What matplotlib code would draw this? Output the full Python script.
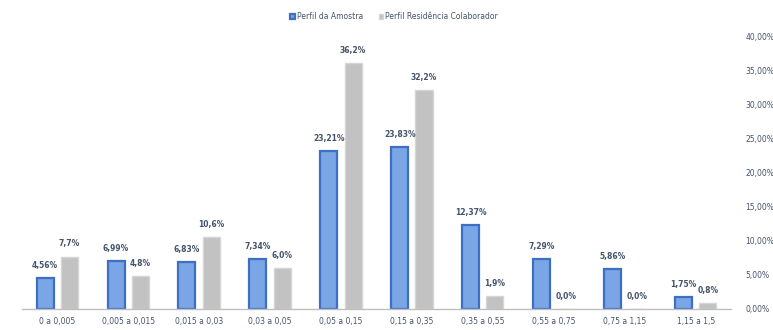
import matplotlib
matplotlib.use("Agg")
import matplotlib.pyplot as plt
import numpy as np
from matplotlib.ticker import FuncFormatter, MultipleLocator

categories = ["0 a 0,005", "0,005 a 0,015", "0,015 a 0,03", "0,03 a 0,05",
              "0,05 a 0,15", "0,15 a 0,35", "0,35 a 0,55", "0,55 a 0,75",
              "0,75 a 1,15", "1,15 a 1,5"]
amostra = [4.56, 6.99, 6.83, 7.34, 23.21, 23.83, 12.37, 7.29, 5.86, 1.75]
residencia = [7.7, 4.8, 10.6, 6.0, 36.2, 32.2, 1.9, 0.0, 0.0, 0.8]
series_names = ["Perfil da Amostra", "Perfil Residência Colaborador"]

fig = plt.figure(figsize=(7.73, 3.3), dpi=100)
ax = fig.add_axes([0.028, 0.064, 0.918, 0.824])

x = np.arange(len(categories))
w = 0.24
off = 0.17

b1 = ax.bar(x - off, amostra, w, color="#7aa6e6", edgecolor="#3f6fc4",
            linewidth=1.6, label=series_names[0])
b2 = ax.bar(x + off, residencia, w, color="#c2c2c2", edgecolor="#d6d6d6",
            linewidth=1.0, label=series_names[1])

def pct2(v):
    return f"{v:.2f}".replace(".", ",") + "%"

def pct1(v):
    return f"{v:.1f}".replace(".", ",") + "%"

for xi, v in zip(x, amostra):
    ax.text(xi - off, v + 1.2, pct2(v), ha="center", va="bottom",
            fontsize=5.5, color="#44546a", fontweight="bold")
for xi, v in zip(x, residencia):
    ax.text(xi + off, v + 1.2, pct1(v), ha="center", va="bottom",
            fontsize=5.5, color="#44546a", fontweight="bold")

ax.set_xlim(-0.5, len(categories) - 0.5)
ax.set_ylim(0, 40)
ax.set_xticks(x)
ax.set_xticklabels(categories, fontsize=5.5, color="#44546a")
ax.yaxis.tick_right()
ax.yaxis.set_major_locator(MultipleLocator(5))
ax.yaxis.set_major_formatter(FuncFormatter(lambda v, p: f"{v:.2f}".replace(".", ",") + "%"))
ax.tick_params(axis="y", labelsize=5.5, labelcolor="#44546a", length=0, pad=10)
ax.tick_params(axis="x", length=0, pad=6)
for s in ["top", "left", "right"]:
    ax.spines[s].set_visible(False)
ax.spines["bottom"].set_color("#bfbfbf")
ax.spines["bottom"].set_linewidth(1.0)

fig.legend(handles=[b1, b2], labels=series_names, loc="upper center",
           bbox_to_anchor=(0.51, 0.985), ncol=2, frameon=False,
           fontsize=5.5, handlelength=0.6, handleheight=0.6,
           handletextpad=0.3, columnspacing=2.0, labelcolor="#44546a")

fig.savefig("out.png", dpi=100)
